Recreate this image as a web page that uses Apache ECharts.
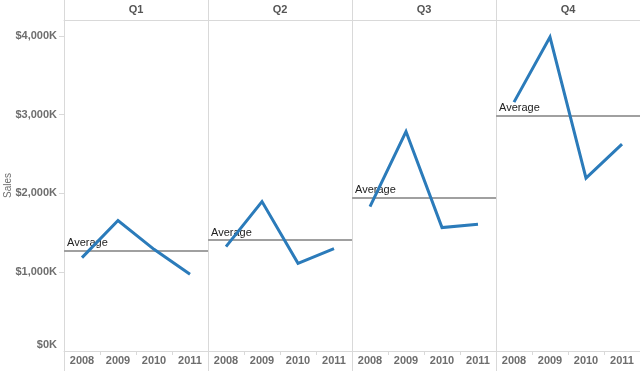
<!DOCTYPE html>
<html>
<head>
<meta charset="utf-8">
<script src="https://cdn.jsdelivr.net/npm/echarts@6/dist/echarts.min.js"></script>
<style>
html,body{margin:0;padding:0;background:#fff;}
#chart{width:640px;height:371px;}
</style>
</head>
<body>
<div id="chart"></div>
<script>
// Data (sales in thousands of dollars)
const years = ['2008', '2009', '2010', '2011'];
const quarters = ['Q1', 'Q2', 'Q3', 'Q4'];
const salesQ1 = [1185, 1655, 1290, 974];
const salesQ2 = [1324, 1896, 1113, 1299];
const salesQ3 = [1832, 2785, 1566, 1608];
const salesQ4 = [3158, 3984, 2193, 2625];
const yTickValues = [0, 1000, 2000, 3000, 4000];
const yAxisTitle = 'Sales';
const refLineLabel = 'Average';

const seriesData = [salesQ1, salesQ2, salesQ3, salesQ4];

const FONT = '"Liberation Sans", Arial, sans-serif';
const AXIS_GRAY = '#d9d9d9';
const TEXT_GRAY = '#6e6e6e';
const panelLeft = 64, panelW = 144, gridTop = 20, gridBottom = 20;

const grids = [], xAxes = [], yAxes = [], series = [], graphics = [];

quarters.forEach((q, i) => {
  const left = panelLeft + i * panelW;
  grids.push({ left: left, top: gridTop, width: panelW, bottom: gridBottom, containLabel: false });
  // bottom year axis
  xAxes.push({
    type: 'category', gridIndex: i, data: years, position: 'bottom', boundaryGap: true,
    axisLine: { show: true, lineStyle: { color: AXIS_GRAY, width: 1 } },
    axisTick: { show: true, length: 4, lineStyle: { color: AXIS_GRAY } },
    axisLabel: { color: TEXT_GRAY, fontSize: 11, fontWeight: 'bold', fontFamily: FONT, margin: 4, interval: 0 },
    splitLine: { show: false }
  });
  // top header axis
  xAxes.push({
    type: 'category', gridIndex: i, data: [q], position: 'top',
    axisLine: { show: true, lineStyle: { color: AXIS_GRAY, width: 1 } },
    axisTick: { show: false },
    axisLabel: { color: '#555', fontSize: 11, fontWeight: 'bold', fontFamily: FONT, margin: 5 },
    splitLine: { show: false }
  });
  const yShow = i === 0;
  yAxes.push({
    type: 'value', gridIndex: i, min: 0, max: 4200,
    name: yShow ? yAxisTitle : '', nameLocation: 'middle', nameGap: 51, nameRotate: 90,
    nameMoveOverlap: false,
    nameTextStyle: { color: TEXT_GRAY, fontSize: 10, fontFamily: FONT },
    axisLine: { show: yShow, lineStyle: { color: AXIS_GRAY } },
    axisTick: { show: yShow, length: 5, inside: false, lineStyle: { color: AXIS_GRAY }, customValues: yTickValues.filter(v => v !== 0) },
    axisLabel: {
      show: yShow, customValues: yTickValues, margin: 7,
      color: TEXT_GRAY, fontSize: 11, fontWeight: 'bold', fontFamily: FONT,
      formatter: function (v) {
        const s = '$' + Number(v).toLocaleString('en-US') + 'K';
        return v === 0 ? '{z|' + s + '}' : s;
      },
      rich: { z: { color: TEXT_GRAY, fontSize: 11, fontWeight: 'bold', fontFamily: FONT, padding: [0, 0, 12, 0] } }
    },
    splitLine: { show: false }
  });
  series.push({
    type: 'line', xAxisIndex: i * 2, yAxisIndex: i, data: seriesData[i],
    showSymbol: false, symbol: 'none', z: 3,
    lineStyle: { color: '#2b7bba', width: 3, join: 'miter' },
    itemStyle: { color: '#2b7bba' },
    markLine: {
      silent: true, symbol: 'none', z: 2,
      lineStyle: { color: '#a0a0a0', width: 2, type: 'solid' },
      label: { show: true, position: 'insideStartTop', formatter: refLineLabel, color: '#222', fontSize: 11, fontFamily: FONT, distance: [3, 2] },
      data: [{ type: 'average' }]
    }
  });
  graphics.push({
    type: 'line', silent: true, z: 0,
    shape: { x1: left + 0.5, y1: 0, x2: left + 0.5, y2: 371 },
    style: { stroke: AXIS_GRAY, lineWidth: 1 }
  });
});

const chart = echarts.init(document.getElementById('chart'), null, { renderer: 'canvas' });
chart.setOption({
  animation: false,
  backgroundColor: '#fff',
  textStyle: { fontFamily: FONT },
  grid: grids,
  xAxis: xAxes,
  yAxis: yAxes,
  series: series,
  graphic: graphics
});
</script>
</body>
</html>
